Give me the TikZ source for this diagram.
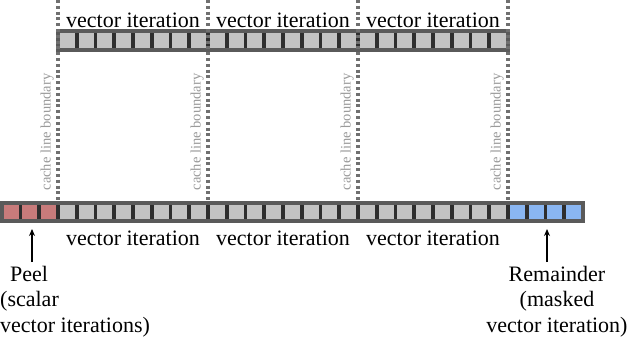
\documentclass[tikz,border=0pt]{standalone}
\usepackage{fontspec}
\setmainfont{Liberation Serif}
\usetikzlibrary{arrows.meta}
\definecolor{cellgray}{HTML}{C3C3C3}
\definecolor{divcol}{HTML}{2E2E2E}
\definecolor{outercol}{HTML}{5A5A5A}
\definecolor{peelred}{HTML}{C87B7B}
\definecolor{remblue}{HTML}{8AB6F2}
\definecolor{dotcol}{HTML}{707070}
\definecolor{cachetext}{HTML}{9A9A9A}
\begin{document}
\begin{tikzpicture}[x=1pt,y=-1pt,
  cell/.style={draw=divcol, line width=3.6pt, minimum width=18.75pt, minimum height=18.5pt, inner sep=0pt, outer sep=0pt},
  outerbox/.style={draw=outercol, line width=3.6pt},
  cacheline/.style={draw=dotcol, line width=3.2pt, dash pattern=on 3pt off 2.8pt},
  cachelabel/.style={rotate=90, anchor=base, text=cachetext, font=\fontsize{14.5}{16}\selectfont, inner sep=0pt},
  iterlabel/.style={anchor=base, font=\fontsize{22}{25.5}\selectfont, inner sep=0pt},
  biglabel/.style={font=\fontsize{22}{25.5}\selectfont, inner sep=0pt},
  pointer/.style={line width=1.4pt, -{Stealth[length=7pt,width=6pt]}}
]
\useasboundingbox[fill=white] (0,0) rectangle (630,341);

% top bar
\foreach \i in {0,...,23} {
  \node[cell, fill=cellgray] (t\i) at ({58+(\i+0.5)*18.75}, 40.5) {};
}
\draw[outerbox] (t0.north west) rectangle (t23.south east);

% bottom bar
\foreach \i in {0,...,30} {
  \ifnum\i<3 \def\cfill{peelred}\else\ifnum\i>26 \def\cfill{remblue}\else\def\cfill{cellgray}\fi\fi
  \node[cell, fill=\cfill] (b\i) at ({1.75+(\i+0.5)*18.75}, 212) {};
}
\draw[outerbox] (b0.north west) rectangle (b30.south east);

% cache line boundaries
\foreach \k/\x in {1/58, 2/208, 3/358, 4/508} {
  \coordinate (c\k top) at (\x, 0);
  \coordinate (c\k bot) at (\x, 201);
  \draw[cacheline] (c\k top) -- (c\k bot);
  \node[cachelabel] (cl\k) at (\x-7.5, 132) {cache line boundary};
}

% vector iteration labels
\foreach \k/\x in {1/133, 2/283, 3/433} {
  \node[iterlabel] (vt\k) at (\x, 27) {vector iteration};
  \node[iterlabel] (vb\k) at (\x, 245) {vector iteration};
}

% peel
\node[biglabel, anchor=north west, align=left] (peel) at (0, 266)
  {\hspace*{10pt}Peel\\(scalar\\vector iterations)};
\coordinate (peeltail) at (32, 262);
\coordinate (peeltip) at (32, 229);
\draw[pointer] (peeltail) -- (peeltip);

% remainder
\node[biglabel, anchor=north, align=center] (rem) at (557, 266)
  {Remainder\\(masked\\vector iteration)};
\coordinate (remtail) at (547, 262);
\coordinate (remtip) at (547, 229);
\draw[pointer] (remtail) -- (remtip);
\end{tikzpicture}
\end{document}
